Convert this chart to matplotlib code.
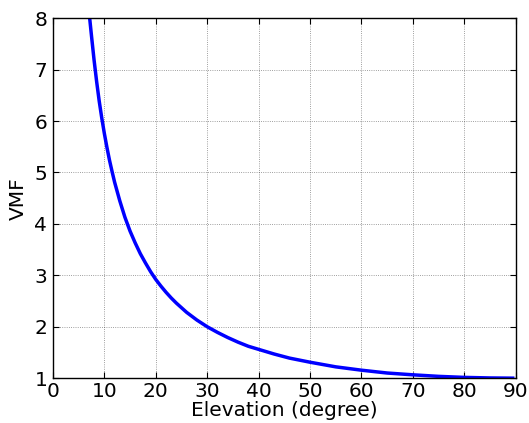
import matplotlib
matplotlib.use('Agg')
import matplotlib.pyplot as plt

# values
elevation = [7.15, 7.5, 8, 8.5, 9, 9.5, 10, 10.5, 11, 11.5, 12, 13, 14, 15, 16, 17, 18, 19,
             20, 21, 22, 23, 24, 25, 26, 28, 30, 32, 34, 36, 38, 40, 43, 46, 50, 55, 60,
             65, 70, 75, 80, 85, 89.4]
vmf = [8.0, 7.66, 7.19, 6.77, 6.39, 6.06, 5.76, 5.49, 5.24, 5.02, 4.81, 4.45, 4.13, 3.86,
       3.63, 3.42, 3.24, 3.07, 2.92, 2.79, 2.67, 2.56, 2.46, 2.37, 2.28, 2.13, 2.00, 1.89,
       1.79, 1.70, 1.62, 1.56, 1.47, 1.39, 1.31, 1.22, 1.155, 1.10, 1.065, 1.035, 1.015,
       1.004, 1.0]

xticks = [0, 10, 20, 30, 40, 50, 60, 70, 80, 90]
yticks = [1, 2, 3, 4, 5, 6, 7, 8]

fig = plt.figure(figsize=(5.29, 4.23), dpi=100)
ax = fig.add_axes([0.100, 0.106, 0.875, 0.851])
ax.plot(elevation, vmf, color='blue', linewidth=2.5)
ax.set_xlim(0, 90)
ax.set_ylim(1, 8)
ax.set_xticks(xticks)
ax.set_yticks(yticks)
ax.grid(True, color='black', linestyle=':', linewidth=0.6, alpha=0.5)
ax.tick_params(direction='in', top=True, right=True, labelsize=14.5, length=4)
ax.tick_params(axis='x', pad=3)
ax.tick_params(axis='y', pad=4)
ax.set_xlabel('Elevation (degree)', fontsize=14.5, labelpad=0)
ax.set_ylabel('VMF', fontsize=14.5, labelpad=5)
for s in ax.spines.values():
    s.set_linewidth(1.0)
fig.savefig('out.png', dpi=100)
